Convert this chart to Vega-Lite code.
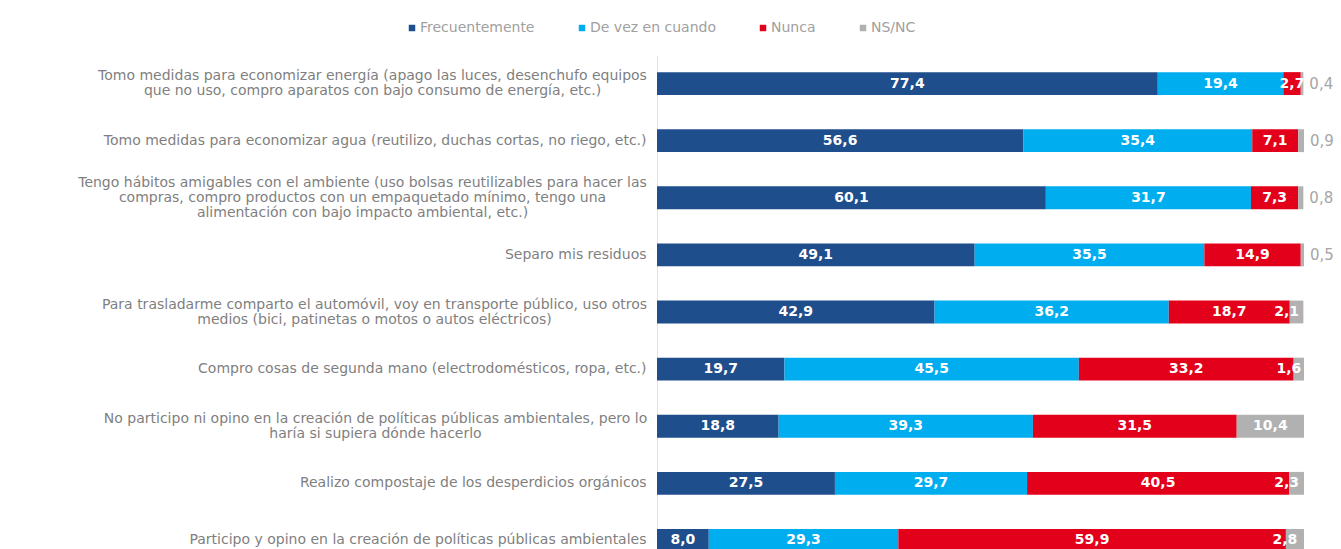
{
  "$schema": "https://vega.github.io/schema/vega-lite/v6.json",
  "width": 647,
  "height": 494,
  "autosize": {"type": "none"},
  "padding": {"left": 657, "top": 55, "right": 37, "bottom": 0},
  "background": "white",
  "config": {
    "view": {"stroke": null},
    "font": "DejaVu Sans",
    "locale": {"number": {"decimal": ",", "thousands": ".", "grouping": [3], "currency": ["", ""]}}
  },
  "data": {
    "values": [
      {"item": "Tomo medidas para economizar energía (apago las luces, desenchufo equipos|que no uso, compro aparatos con bajo consumo de energía, etc.)", "cat": "Frecuentemente", "ord": 1, "v": 77.4},
      {"item": "Tomo medidas para economizar energía (apago las luces, desenchufo equipos|que no uso, compro aparatos con bajo consumo de energía, etc.)", "cat": "De vez en cuando", "ord": 2, "v": 19.4},
      {"item": "Tomo medidas para economizar energía (apago las luces, desenchufo equipos|que no uso, compro aparatos con bajo consumo de energía, etc.)", "cat": "Nunca", "ord": 3, "v": 2.7},
      {"item": "Tomo medidas para economizar energía (apago las luces, desenchufo equipos|que no uso, compro aparatos con bajo consumo de energía, etc.)", "cat": "NS/NC", "ord": 4, "v": 0.4},
      {"item": "Tomo medidas para economizar agua (reutilizo, duchas cortas, no riego, etc.)", "cat": "Frecuentemente", "ord": 1, "v": 56.6},
      {"item": "Tomo medidas para economizar agua (reutilizo, duchas cortas, no riego, etc.)", "cat": "De vez en cuando", "ord": 2, "v": 35.4},
      {"item": "Tomo medidas para economizar agua (reutilizo, duchas cortas, no riego, etc.)", "cat": "Nunca", "ord": 3, "v": 7.1},
      {"item": "Tomo medidas para economizar agua (reutilizo, duchas cortas, no riego, etc.)", "cat": "NS/NC", "ord": 4, "v": 0.9},
      {"item": "Tengo hábitos amigables con el ambiente (uso bolsas reutilizables para hacer las|compras, compro productos con un empaquetado mínimo, tengo una|alimentación con bajo impacto ambiental, etc.)", "cat": "Frecuentemente", "ord": 1, "v": 60.1},
      {"item": "Tengo hábitos amigables con el ambiente (uso bolsas reutilizables para hacer las|compras, compro productos con un empaquetado mínimo, tengo una|alimentación con bajo impacto ambiental, etc.)", "cat": "De vez en cuando", "ord": 2, "v": 31.7},
      {"item": "Tengo hábitos amigables con el ambiente (uso bolsas reutilizables para hacer las|compras, compro productos con un empaquetado mínimo, tengo una|alimentación con bajo impacto ambiental, etc.)", "cat": "Nunca", "ord": 3, "v": 7.3},
      {"item": "Tengo hábitos amigables con el ambiente (uso bolsas reutilizables para hacer las|compras, compro productos con un empaquetado mínimo, tengo una|alimentación con bajo impacto ambiental, etc.)", "cat": "NS/NC", "ord": 4, "v": 0.8},
      {"item": "Separo mis residuos", "cat": "Frecuentemente", "ord": 1, "v": 49.1},
      {"item": "Separo mis residuos", "cat": "De vez en cuando", "ord": 2, "v": 35.5},
      {"item": "Separo mis residuos", "cat": "Nunca", "ord": 3, "v": 14.9},
      {"item": "Separo mis residuos", "cat": "NS/NC", "ord": 4, "v": 0.5},
      {"item": "Para trasladarme comparto el automóvil, voy en transporte público, uso otros|medios (bici, patinetas o motos o autos eléctricos)", "cat": "Frecuentemente", "ord": 1, "v": 42.9},
      {"item": "Para trasladarme comparto el automóvil, voy en transporte público, uso otros|medios (bici, patinetas o motos o autos eléctricos)", "cat": "De vez en cuando", "ord": 2, "v": 36.2},
      {"item": "Para trasladarme comparto el automóvil, voy en transporte público, uso otros|medios (bici, patinetas o motos o autos eléctricos)", "cat": "Nunca", "ord": 3, "v": 18.7},
      {"item": "Para trasladarme comparto el automóvil, voy en transporte público, uso otros|medios (bici, patinetas o motos o autos eléctricos)", "cat": "NS/NC", "ord": 4, "v": 2.1},
      {"item": "Compro cosas de segunda mano (electrodomésticos, ropa, etc.)", "cat": "Frecuentemente", "ord": 1, "v": 19.7},
      {"item": "Compro cosas de segunda mano (electrodomésticos, ropa, etc.)", "cat": "De vez en cuando", "ord": 2, "v": 45.5},
      {"item": "Compro cosas de segunda mano (electrodomésticos, ropa, etc.)", "cat": "Nunca", "ord": 3, "v": 33.2},
      {"item": "Compro cosas de segunda mano (electrodomésticos, ropa, etc.)", "cat": "NS/NC", "ord": 4, "v": 1.6},
      {"item": "No participo ni opino en la creación de políticas públicas ambientales, pero lo|haría si supiera dónde hacerlo", "cat": "Frecuentemente", "ord": 1, "v": 18.8},
      {"item": "No participo ni opino en la creación de políticas públicas ambientales, pero lo|haría si supiera dónde hacerlo", "cat": "De vez en cuando", "ord": 2, "v": 39.3},
      {"item": "No participo ni opino en la creación de políticas públicas ambientales, pero lo|haría si supiera dónde hacerlo", "cat": "Nunca", "ord": 3, "v": 31.5},
      {"item": "No participo ni opino en la creación de políticas públicas ambientales, pero lo|haría si supiera dónde hacerlo", "cat": "NS/NC", "ord": 4, "v": 10.4},
      {"item": "Realizo compostaje de los desperdicios orgánicos", "cat": "Frecuentemente", "ord": 1, "v": 27.5},
      {"item": "Realizo compostaje de los desperdicios orgánicos", "cat": "De vez en cuando", "ord": 2, "v": 29.7},
      {"item": "Realizo compostaje de los desperdicios orgánicos", "cat": "Nunca", "ord": 3, "v": 40.5},
      {"item": "Realizo compostaje de los desperdicios orgánicos", "cat": "NS/NC", "ord": 4, "v": 2.3},
      {"item": "Participo y opino en la creación de políticas públicas ambientales", "cat": "Frecuentemente", "ord": 1, "v": 8.0},
      {"item": "Participo y opino en la creación de políticas públicas ambientales", "cat": "De vez en cuando", "ord": 2, "v": 29.3},
      {"item": "Participo y opino en la creación de políticas públicas ambientales", "cat": "Nunca", "ord": 3, "v": 59.9},
      {"item": "Participo y opino en la creación de políticas públicas ambientales", "cat": "NS/NC", "ord": 4, "v": 2.8}
    ]
  },
  "transform": [
    {"stack": "v", "groupby": ["item"], "sort": [{"field": "ord", "order": "ascending"}], "as": ["s", "e"]},
    {"calculate": "(datum.s + datum.e) / 2", "as": "mid"}
  ],
  "encoding": {
    "y": {
      "field": "item",
      "type": "nominal",
      "sort": null,
      "scale": {"range": [0, 514], "paddingInner": 0.6, "paddingOuter": 0.3},
      "axis": {
        "title": null,
        "ticks": false,
        "domain": true,
        "domainColor": "#e3e3e3",
        "labelExpr": "split(datum.label, '|')",
        "labelFontSize": 14,
        "labelLineHeight": 15,
        "labelColor": "#7f7f7f",
        "labelLimit": 1000,
        "grid": false,
        "labelAlign": {
          "condition": {"test": "indexof(datum.value, '|') >= 0", "value": "center"},
          "value": "right"
        },
        "labelPadding": {
          "condition": [
            {"test": "indexof(datum.value, 'energía') >= 0", "value": 285},
            {"test": "indexof(datum.value, 'hábitos') >= 0", "value": 295},
            {"test": "indexof(datum.value, 'trasladarme') >= 0", "value": 283},
            {"test": "indexof(datum.value, 'No participo') >= 0", "value": 282}
          ],
          "value": 11
        },
        "labelOffset": {
          "condition": [
            {"test": "indexof(datum.value, 'hábitos') >= 0", "value": -15},
            {"test": "indexof(datum.value, '|') >= 0", "value": -7.5}
          ],
          "value": 0
        }
      }
    }
  },
  "layer": [
    {
      "mark": {"type": "bar"},
      "encoding": {
        "x": {"field": "s", "type": "quantitative", "scale": {"domain": [0, 100], "nice": false, "zero": true}, "axis": null},
        "x2": {"field": "e"},
        "color": {
          "field": "cat",
          "type": "nominal",
          "scale": {
            "domain": ["Frecuentemente", "De vez en cuando", "Nunca", "NS/NC"],
            "range": ["#1f4e8c", "#00aeef", "#e3001b", "#b1b1b1"]
          },
          "legend": {
            "title": null,
            "orient": "none",
            "direction": "horizontal",
            "legendX": -252,
            "legendY": -34,
            "symbolType": "square",
            "symbolSize": 42,
            "symbolStrokeWidth": 0,
            "labelFontSize": 14,
            "labelColor": "#a0a0a0",
            "labelOffset": 1,
            "columnPadding": 40,
            "padding": 0
          }
        }
      }
    },
    {
      "transform": [{"filter": "datum.cat != 'NS/NC' || datum.v >= 5"}],
      "mark": {"type": "text", "color": "white", "fontWeight": "bold", "fontSize": 14, "baseline": "middle", "align": "center"},
      "encoding": {
        "x": {"field": "mid", "type": "quantitative"},
        "text": {"field": "v", "type": "quantitative", "format": ".1f"}
      }
    },
    {
      "transform": [{"filter": "datum.cat == 'NS/NC' && datum.v >= 1 && datum.v < 5"}],
      "mark": {"type": "text", "color": "white", "fontWeight": "bold", "fontSize": 14, "baseline": "middle", "align": "center", "dx": -10},
      "encoding": {
        "x": {"field": "mid", "type": "quantitative"},
        "text": {"field": "v", "type": "quantitative", "format": ".1f"}
      }
    },
    {
      "transform": [{"filter": "datum.cat == 'NS/NC' && datum.v < 1"}],
      "mark": {"type": "text", "color": "#a6a6a6", "fontSize": 15, "baseline": "middle", "align": "left", "dx": 6},
      "encoding": {
        "x": {"field": "e", "type": "quantitative"},
        "text": {"field": "v", "type": "quantitative", "format": ".1f"}
      }
    }
  ]
}
